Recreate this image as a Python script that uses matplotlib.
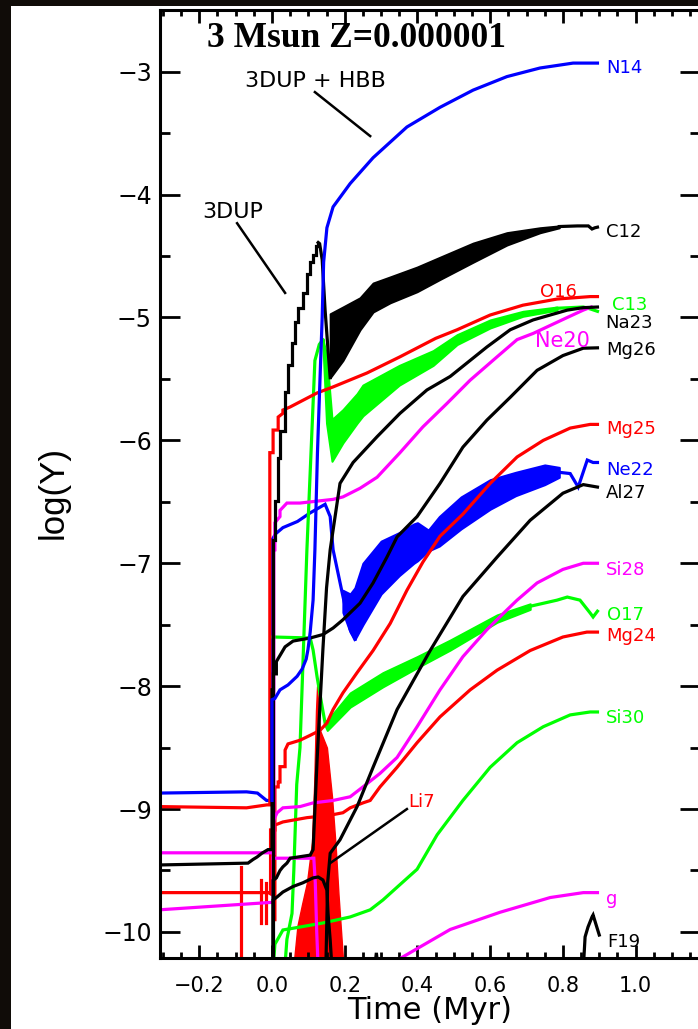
import numpy as np
import matplotlib
matplotlib.use("Agg")
import matplotlib.pyplot as plt
from matplotlib.patches import Rectangle

nan = np.nan

# time in Myr, abundances as log(Y)
n14_t = [0.0, 0.0, 0.008, 0.022, 0.044, 0.069, 0.083, 0.094, 0.099, 0.105, 0.113, 0.118, 0.125, 0.132,
         0.138, 0.142, 0.151, 0.168, 0.215, 0.278, 0.371, 0.462, 0.553, 0.646, 0.737, 0.828, 0.895]
n14_y = [-8.93, -8.11, -8.10, -8.03, -7.99, -7.92, -7.86, -7.78, -7.70, -7.56, -7.30, -6.89, -6.10, -5.50,
         -5.00, -4.55, -4.27, -4.10, -3.91, -3.70, -3.45, -3.29, -3.15, -3.04, -2.97, -2.93, -2.93]

ne22_t = [-0.31, -0.07, -0.04, -0.015, 0.0, 0.0, 0.01, 0.03, 0.07, 0.105, 0.146, 0.16, 0.168, 0.193, 0.215, 0.228]
ne22_y = [-8.87, -8.86, -8.87, -8.93, -8.93, -6.81, -6.76, -6.71, -6.66, -6.59, -6.52, -6.62, -6.89, -7.24, -7.54, -7.62]
ne22_band_t = [0.195, 0.215, 0.228, 0.25, 0.30, 0.35, 0.39, 0.40, 0.43, 0.46, 0.52, 0.60, 0.67, 0.75, 0.79]
ne22_hi = [-7.22, -7.25, -7.20, -7.00, -6.82, -6.75, -6.68, -6.67, -6.73, -6.62, -6.46, -6.32, -6.26, -6.20, -6.22]
ne22_lo = [-7.40, -7.56, -7.62, -7.50, -7.25, -7.10, -7.00, -6.98, -6.90, -6.86, -6.72, -6.56, -6.45, -6.36, -6.30]
ne22_end_t = [0.79, 0.82, 0.842, 0.867, 0.883, 0.895]
ne22_end_y = [-6.26, -6.27, -6.38, -6.16, -6.18, -6.18]

c12_rise_t = [0.0, 0.003, 0.008, 0.017, 0.022, 0.036, 0.044, 0.055, 0.063, 0.072, 0.085, 0.096, 0.105, 0.113, 0.12, 0.127]
c12_rise_y = [-10.3, -6.81, -6.49, -6.14, -5.92, -5.61, -5.39, -5.21, -5.04, -4.92, -4.80, -4.65, -4.55, -4.49, -4.42, -4.39]
c12_fall_t = [0.127, 0.131, 0.138, 0.146, 0.154, 0.16]
c12_fall_y = [-4.39, -4.40, -4.53, -4.94, -5.26, -5.49]
c12_band_t = [0.16, 0.195, 0.242, 0.278, 0.325, 0.399, 0.462, 0.553, 0.646, 0.737, 0.79]
c12_hi = [-4.97, -4.915, -4.84, -4.72, -4.67, -4.59, -4.51, -4.395, -4.31, -4.27, -4.255]
c12_lo = [-5.49, -5.35, -5.10, -4.955, -4.88, -4.79, -4.69, -4.55, -4.41, -4.31, -4.27]
c12_end_t = [0.79, 0.84, 0.87, 0.88, 0.888, 0.895]
c12_end_y = [-4.26, -4.255, -4.255, -4.28, -4.27, -4.265]

mg26_t = [-0.31, -0.066, -0.052, -0.041, -0.028, -0.011, 0.0, 0.0, 0.004, 0.004, 0.012, 0.012, 0.022, 0.036, 0.058,
          0.105, 0.14, 0.168, 0.195, 0.242, 0.278, 0.316, 0.344, 0.399, 0.462, 0.525, 0.591, 0.655, 0.729, 0.80, 0.856, 0.895]
mg26_y = [-9.455, -9.44, -9.41, -9.39, -9.36, -9.33, -9.33, -8.03, -8.03, -7.90, -7.90, -7.80, -7.75, -7.68, -7.633,
          -7.608, -7.58, -7.527, -7.46, -7.325, -7.16, -6.95, -6.785, -6.62, -6.35, -6.055, -5.835, -5.65, -5.43, -5.31, -5.25, -5.247]

na23_t = [0.003, 0.003, 0.012, 0.022, 0.03, 0.041, 0.05, 0.105, 0.113, 0.124, 0.14, 0.15, 0.16, 0.187, 0.223,
          0.289, 0.352, 0.426, 0.49, 0.591, 0.655, 0.718, 0.812, 0.856, 0.895]
na23_y = [-10.3, -9.58, -9.56, -9.50, -9.47, -9.44, -9.40, -9.375, -9.33, -8.6, -7.7, -7.2, -6.89, -6.35, -6.18,
          -5.97, -5.78, -5.59, -5.48, -5.24, -5.10, -5.02, -4.94, -4.92, -4.915]

f19_t = [0.003, 0.003, 0.014, 0.03, 0.058, 0.085, 0.113, 0.127, 0.14, 0.151, 0.154, 0.16, 0.165, nan,
         0.282, 0.287, 0.292, nan, 0.856, 0.861, 0.869, 0.88, 0.883, 0.894, 0.9]
f19_y = [-10.3, -9.74, -9.715, -9.675, -9.63, -9.60, -9.56, -9.553, -9.577, -9.66, -9.845, -10.065, -10.3, nan,
         -10.3, -10.17, -10.3, nan, -10.3, -10.04, -9.96, -9.878, -9.862, -9.968, -10.025]

al27_t = [0.148, 0.153, 0.16, 0.187, 0.234, 0.278, 0.344, 0.435, 0.525, 0.619, 0.71, 0.80, 0.856, 0.895]
al27_y = [-10.3, -9.6, -9.36, -9.25, -8.98, -8.66, -8.19, -7.71, -7.27, -6.95, -6.65, -6.43, -6.36, -6.38]

o16_t = [-0.31, -0.07, -0.014, -0.006, -0.006, 0.003, 0.003, 0.017, 0.017, 0.03, 0.03, 0.05, 0.124, 0.168,
         0.261, 0.352, 0.45, 0.509, 0.60, 0.69, 0.784, 0.875, 0.895]
o16_y = [-8.98, -8.99, -8.966, -8.966, -6.10, -6.10, -5.916, -5.916, -5.81, -5.78, -5.753, -5.728, -5.614, -5.565,
         -5.452, -5.32, -5.17, -5.10, -4.98, -4.90, -4.85, -4.83, -4.83]

mg25_t = [0.008, 0.008, 0.017, 0.017, 0.022, 0.022, 0.036, 0.036, 0.044, 0.077, 0.105, 0.132, 0.151, 0.168,
          0.195, 0.234, 0.278, 0.325, 0.371, 0.415, 0.462, 0.525, 0.60, 0.674, 0.746, 0.82, 0.875, 0.895]
mg25_y = [-9.9, -8.82, -8.82, -8.78, -8.78, -8.655, -8.655, -8.52, -8.47, -8.44, -8.40, -8.36, -8.30, -8.19,
          -8.055, -7.89, -7.71, -7.49, -7.22, -6.99, -6.78, -6.60, -6.35, -6.135, -6.0, -5.9, -5.87, -5.87]

mg24_t = [-0.31, -0.01, -0.004, -0.004, 0.008, 0.008, 0.017, 0.03, 0.058, 0.096, 0.16, 0.195, 0.215, 0.25,
          0.27, 0.297, 0.344, 0.399, 0.462, 0.545, 0.619, 0.71, 0.80, 0.866, 0.895]
mg24_y = [-9.68, -9.68, -9.69, -9.17, -9.17, -9.13, -9.12, -9.105, -9.09, -9.07, -9.05, -9.03, -8.99, -8.95,
          -8.93, -8.82, -8.66, -8.46, -8.25, -8.03, -7.87, -7.71, -7.60, -7.56, -7.56]

si28_t = [-0.31, -0.005, 0.003, 0.003, 0.014, 0.03, 0.077, 0.113, 0.168, 0.215, 0.25, 0.297, 0.344, 0.399,
          0.462, 0.525, 0.591, 0.646, 0.674, 0.729, 0.80, 0.856, 0.895]
si28_y = [-9.82, -9.76, -9.76, -9.10, -9.03, -8.99, -8.98, -8.95, -8.93, -8.90, -8.82, -8.71, -8.58, -8.33,
          -8.03, -7.76, -7.54, -7.38, -7.30, -7.16, -7.05, -7.0, -7.0]

ne20_t = [-0.31, 0.0, 0.005, 0.005, 0.008, 0.008, 0.022, 0.022, 0.041, 0.077, 0.168, 0.195, 0.242, 0.289,
          0.352, 0.415, 0.481, 0.545, 0.619, 0.674, 0.718, 0.812, 0.856, 0.878]
ne20_y = [-9.356, -9.356, -9.36, -6.89, -6.89, -6.67, -6.62, -6.57, -6.51, -6.51, -6.48, -6.46, -6.39, -6.30,
          -6.10, -5.89, -5.70, -5.51, -5.32, -5.18, -5.13, -5.0, -4.94, -4.915]

g_t = [0.003, 0.115, 0.119, 0.123, 0.127, nan, 0.35, 0.49, 0.627, 0.765, 0.856, 0.895]
g_y = [-9.40, -9.40, -9.6, -10.0, -10.3, nan, -10.22, -9.98, -9.84, -9.72, -9.68, -9.68]

si30_t = [0.003, 0.008, 0.03, 0.077, 0.14, 0.215, 0.27, 0.305, 0.35, 0.399, 0.454, 0.525, 0.60, 0.674,
          0.746, 0.82, 0.875, 0.895]
si30_y = [-10.3, -10.1, -9.984, -9.96, -9.927, -9.878, -9.82, -9.74, -9.62, -9.49, -9.21, -8.93, -8.66, -8.46,
          -8.33, -8.234, -8.21, -8.21]

c13_t = [0.035, 0.041, 0.055, 0.06, 0.068, 0.077, 0.096, 0.118, 0.13, 0.14]
c13_y = [-10.3, -10.06, -9.85, -9.5, -8.8, -8.5, -6.89, -5.35, -5.22, -5.18]
c13_band_t = [0.14, 0.15, 0.165, 0.195, 0.234, 0.25, 0.35, 0.443, 0.509, 0.60, 0.69, 0.784]
c13_hi = [-5.18, -5.30, -5.83, -5.75, -5.62, -5.55, -5.39, -5.27, -5.14, -5.02, -4.95, -4.915]
c13_lo = [-5.22, -5.86, -6.17, -6.02, -5.86, -5.80, -5.55, -5.39, -5.22, -5.085, -4.99, -4.94]
c13_end_t = [0.784, 0.856, 0.875, 0.895]
c13_end_y = [-4.925, -4.915, -4.93, -4.95]

o17_t = [0.003, 0.105, 0.113, 0.124, 0.138, 0.146]
o17_y = [-7.60, -7.608, -7.706, -7.925, -8.17, -8.30]
o17_band_t = [0.146, 0.152, 0.215, 0.305, 0.399, 0.49, 0.619, 0.71]
o17_hi = [-8.28, -8.28, -8.055, -7.89, -7.76, -7.625, -7.42, -7.33]
o17_lo = [-8.32, -8.36, -8.17, -8.005, -7.85, -7.706, -7.48, -7.375]
o17_end_t = [0.71, 0.784, 0.812, 0.847, 0.875, 0.883, 0.895]
o17_end_y = [-7.35, -7.30, -7.275, -7.30, -7.405, -7.437, -7.39]

li7_t = [0.055, 0.06, 0.07, 0.083, 0.096, 0.11, 0.116, 0.121, 0.124, 0.127, 0.132, 0.151, 0.165, 0.175, 0.183, 0.19, 0.197]
li7_y = [-10.3, -10.25, -9.95, -9.77, -9.60, -9.27, -8.80, -8.20, -8.0, -8.15, -8.36, -8.50, -8.90, -9.30, -9.70, -10.0, -10.3]

# noisy red bits before the TP-AGB start
red_bits_t = [-0.085, -0.085, nan, -0.03, -0.03, nan, -0.017, -0.017]
red_bits_y = [-9.47, -10.3, nan, -9.58, -9.93, nan, -9.60, -9.93]

label_text = ['N14', 'C12', 'O16', 'C13', 'Na23', 'Ne20', 'Mg26', 'Mg25', 'Ne22', 'Al27',
              'Si28', 'O17', 'Mg24', 'Si30', 'g', 'F19', 'Li7']
label_t = [0.919, 0.919, 0.787, 0.935, 0.917, 0.80, 0.919, 0.919, 0.919, 0.917,
           0.919, 0.921, 0.919, 0.919, 0.919, 0.921, 0.374]
label_y = [-3.011, -4.346, -4.834, -4.939, -5.085, -5.24, -5.307, -5.948, -6.281, -6.468,
           -7.095, -7.461, -7.633, -8.299, -9.772, -10.12, -8.98]
label_col = ['b', 'k', 'r', 'g', 'k', 'm', 'k', 'r', 'b', 'k', 'm', 'g', 'r', 'g', 'm', 'k', 'r']

xticks = [-0.2, 0.0, 0.2, 0.4, 0.6, 0.8, 1.0]
xtick_labels = ['\u22120.2', '0.0', '0.2', '0.4', '0.6', '0.8', '1.0']
yticks = [-3, -4, -5, -6, -7, -8, -9, -10]
ytick_labels = ['\u22123', '\u22124', '\u22125', '\u22126', '\u22127', '\u22128', '\u22129', '\u221210']

cols = {'b': '#0000ff', 'k': '#000000', 'r': '#ff0000', 'g': '#00ff00', 'm': '#ff00ff'}
lw = 2.3

plt.rcParams['font.family'] = 'DejaVu Sans'

fig = plt.figure(figsize=(6.98, 10.29), dpi=100, facecolor='#100c08')
fig.patches.append(Rectangle((11 / 698, 0), 1, 1 - 6 / 1029, transform=fig.transFigure,
                             facecolor='white', edgecolor='none', zorder=-10))
ax = fig.add_axes([160 / 698, 71 / 1029, 540 / 698, 948 / 1029])
ax.set_xlim(-0.308, 1.177)
ax.set_ylim(-10.212, -2.498)


def band(t, lo, hi, c):
    ax.fill_between(t, lo, hi, facecolor=cols[c], edgecolor=cols[c], lw=1.5)


def line(t, y, c, **kw):
    ax.plot(t, y, color=cols[c], lw=lw, solid_joinstyle='miter', **kw)


# thermal-pulse bands
band(ne22_band_t, ne22_lo, ne22_hi, 'b')
line(ne22_t, ne22_y, 'b')
line(ne22_end_t, ne22_end_y, 'b')
band(c12_band_t, c12_lo, c12_hi, 'k')
band(c13_band_t, c13_lo, c13_hi, 'g')
band(o17_band_t, o17_lo, o17_hi, 'g')
ax.fill_between(li7_t, li7_y, -10.3, facecolor=cols['r'], edgecolor=cols['r'], lw=1)

line(c13_t, c13_y, 'g')
line(c13_end_t, c13_end_y, 'g')
line(o17_t, o17_y, 'g')
line(o17_end_t, o17_end_y, 'g')
line(si30_t, si30_y, 'g')

line(o16_t, o16_y, 'r')
line(mg25_t, mg25_y, 'r')
line(mg24_t, mg24_y, 'r')
line(red_bits_t, red_bits_y, 'r')

line(ne20_t, ne20_y, 'm')
line(si28_t, si28_y, 'm')
line(g_t, g_y, 'm')

line(c12_rise_t, c12_rise_y, 'k', drawstyle='steps-post')
line(c12_fall_t, c12_fall_y, 'k')
line(c12_end_t, c12_end_y, 'k')
line(mg26_t, mg26_y, 'k')
line(na23_t, na23_y, 'k')
line(al27_t, al27_y, 'k')
line(f19_t, f19_y, 'k')

line(n14_t, n14_y, 'b')

# species names at the curve ends
for s, t, y, c in zip(label_text, label_t, label_y, label_col):
    ha = 'center' if s in ('O16', 'Ne20') else 'left'
    fs = 15 if s == 'Ne20' else 13
    ax.text(t, y, s, color=cols[c], fontsize=fs, ha=ha, va='baseline')

# dredge-up annotations
ax.text(-0.074, -3.125, '3DUP + HBB', fontsize=16, ha='left', va='baseline')
ax.plot([0.118, 0.27], [-3.166, -3.524], color='k', lw=1.8)
ax.text(-0.193, -4.19, '3DUP', fontsize=16, ha='left', va='baseline')
ax.plot([-0.096, 0.036], [-4.233, -4.80], color='k', lw=1.8)
ax.plot([0.371, 0.16], [-9.0, -9.44], color='k', lw=1.8)

ax.text(-0.179, -2.799, '3 Msun Z=0.000001', fontsize=25.5, fontweight='bold',
        family='Liberation Serif', ha='left', va='baseline')

ax.set_xticks(xticks)
ax.set_xticklabels(xtick_labels, fontsize=15)
ax.set_xticks(np.arange(-0.3, 1.2, 0.05), minor=True)
ax.set_yticks(yticks)
ax.set_yticklabels(ytick_labels, fontsize=17)
ax.set_yticks(np.arange(-10, -2.4, 0.5), minor=True)
ax.tick_params(which='both', direction='in', top=True, right=True, width=2.0, color='k')
ax.tick_params(axis='x', which='major', length=9.4, pad=12.6)
ax.tick_params(axis='x', which='minor', length=4.5)
ax.tick_params(axis='y', which='major', length=14.4, pad=5.8)
ax.tick_params(axis='y', which='minor', length=7.5)
for sp in ax.spines.values():
    sp.set_linewidth(2.2)

ax.set_xlabel('Time (Myr)', fontsize=22)
ax.xaxis.set_label_coords(0.5, -0.0398)
ax.set_ylabel('log(Y)', fontsize=25, family='Liberation Sans')
ax.yaxis.set_label_coords(-0.167, 0.491)

fig.savefig('out.png', dpi=100, facecolor=fig.get_facecolor())
